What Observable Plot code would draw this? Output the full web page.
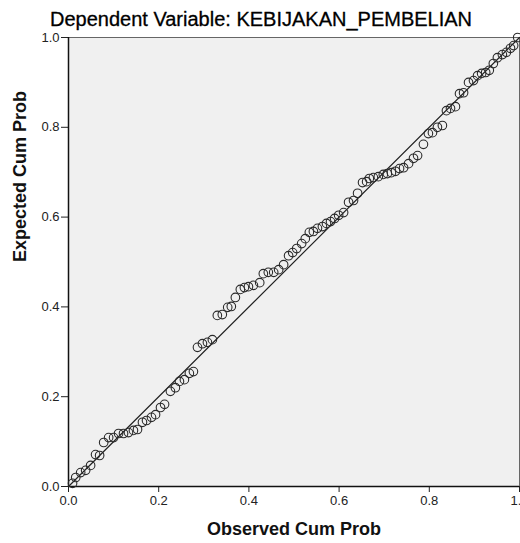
<!DOCTYPE html>
<html>
<head>
<meta charset="utf-8">
<script src="https://cdn.jsdelivr.net/npm/d3@7"></script>
<script src="https://cdn.jsdelivr.net/npm/@observablehq/plot@0.6"></script>
<style>
  html, body { margin: 0; padding: 0; background: #fff; }
  #chart { width: 520px; height: 543px; overflow: hidden; }
</style>
</head>
<body>
<div id="chart"></div>
<script>
const title = "Dependent Variable: KEBIJAKAN_PEMBELIAN";
const xLabel = "Observed Cum Prob";
const yLabel = "Expected Cum Prob";
const tickValues = [0, 0.2, 0.4, 0.6, 0.8, 1.0];
const refLine = [0, 1];

const observed = [
  0.009, 0.016, 0.027, 0.038, 0.049, 0.060, 0.069, 0.078, 0.089, 0.100,
  0.111, 0.122, 0.133, 0.144, 0.153, 0.164, 0.173, 0.184, 0.193, 0.204,
  0.213, 0.226, 0.237, 0.246, 0.257, 0.268, 0.277, 0.286, 0.297, 0.308,
  0.319, 0.330, 0.341, 0.353, 0.361, 0.370, 0.381, 0.390, 0.399, 0.410,
  0.424, 0.432, 0.443, 0.455, 0.466, 0.477, 0.488, 0.497, 0.506, 0.517,
  0.525, 0.534, 0.543, 0.552, 0.563, 0.572, 0.581, 0.590, 0.599, 0.610,
  0.621, 0.632, 0.641, 0.652, 0.661, 0.667, 0.676, 0.687, 0.698, 0.707,
  0.716, 0.725, 0.734, 0.743, 0.754, 0.765, 0.774, 0.787, 0.798, 0.807,
  0.818, 0.829, 0.838, 0.847, 0.858, 0.867, 0.876, 0.887, 0.898, 0.907,
  0.916, 0.925, 0.933, 0.942, 0.951, 0.962, 0.971, 0.980, 0.987, 0.996
];
const expected = [
  0.007, 0.020, 0.031, 0.036, 0.047, 0.071, 0.069, 0.098, 0.109, 0.109,
  0.118, 0.118, 0.120, 0.125, 0.127, 0.143, 0.147, 0.154, 0.160, 0.176,
  0.183, 0.212, 0.220, 0.234, 0.238, 0.252, 0.256, 0.310, 0.318, 0.321,
  0.327, 0.381, 0.383, 0.399, 0.401, 0.421, 0.439, 0.443, 0.445, 0.448,
  0.454, 0.474, 0.477, 0.477, 0.483, 0.494, 0.514, 0.521, 0.530, 0.541,
  0.552, 0.566, 0.568, 0.575, 0.579, 0.586, 0.590, 0.597, 0.604, 0.610,
  0.633, 0.637, 0.653, 0.677, 0.679, 0.686, 0.688, 0.690, 0.695, 0.697,
  0.699, 0.702, 0.708, 0.710, 0.719, 0.731, 0.737, 0.762, 0.786, 0.788,
  0.800, 0.804, 0.837, 0.842, 0.846, 0.875, 0.877, 0.900, 0.904, 0.915,
  0.920, 0.922, 0.927, 0.942, 0.955, 0.962, 0.967, 0.976, 0.982, 1.000
];

const points = observed.map((x, i) => ({x, y: expected[i]}));
const font = "'Liberation Sans', Arial, sans-serif";

const chart = Plot.plot({
  width: 520,
  height: 543,
  marginLeft: 68,
  marginRight: 1,
  marginTop: 37,
  marginBottom: 57,
  style: {fontFamily: font, background: "white", overflow: "visible"},
  x: {domain: [0, 1]},
  y: {domain: [0, 1]},
  marks: [
    Plot.frame({fill: "#f0f0f0", stroke: "#666"}),
    Plot.axisX({ticks: tickValues, tickFormat: d3.format(".1f"), tickSize: 6, tickPadding: 3, fontSize: 13, label: null, color: "#222"}),
    Plot.axisY({ticks: tickValues, tickFormat: d3.format(".1f"), tickSize: 7, tickPadding: 2, fontSize: 13, label: null, color: "#222"}),
    Plot.ruleX([0], {stroke: "#111", strokeWidth: 1.5}),
    Plot.ruleY([0], {stroke: "#111", strokeWidth: 1.5}),
    Plot.line(refLine, {x: d => d, y: d => d, stroke: "#222", strokeWidth: 1.2}),
    Plot.dot(points, {x: "x", y: "y", r: 4.3, stroke: "#2a2a2a", strokeWidth: 1.1, fill: "none"}),
    Plot.text([title], {frameAnchor: "top", lineAnchor: "middle", dx: -33, dy: -18, fontSize: 20, fill: "#000", stroke: "#000", strokeWidth: 0.3, text: d => d}),
    Plot.text([xLabel], {frameAnchor: "bottom", lineAnchor: "middle", dy: 43, fontSize: 18, fontWeight: "bold", fill: "#111", text: d => d}),
    Plot.text([yLabel], {frameAnchor: "left", lineAnchor: "middle", dx: -48, rotate: -90, fontSize: 18, fontWeight: "bold", fill: "#111", text: d => d})
  ]
});
document.getElementById("chart").appendChild(chart);
</script>
</body>
</html>
